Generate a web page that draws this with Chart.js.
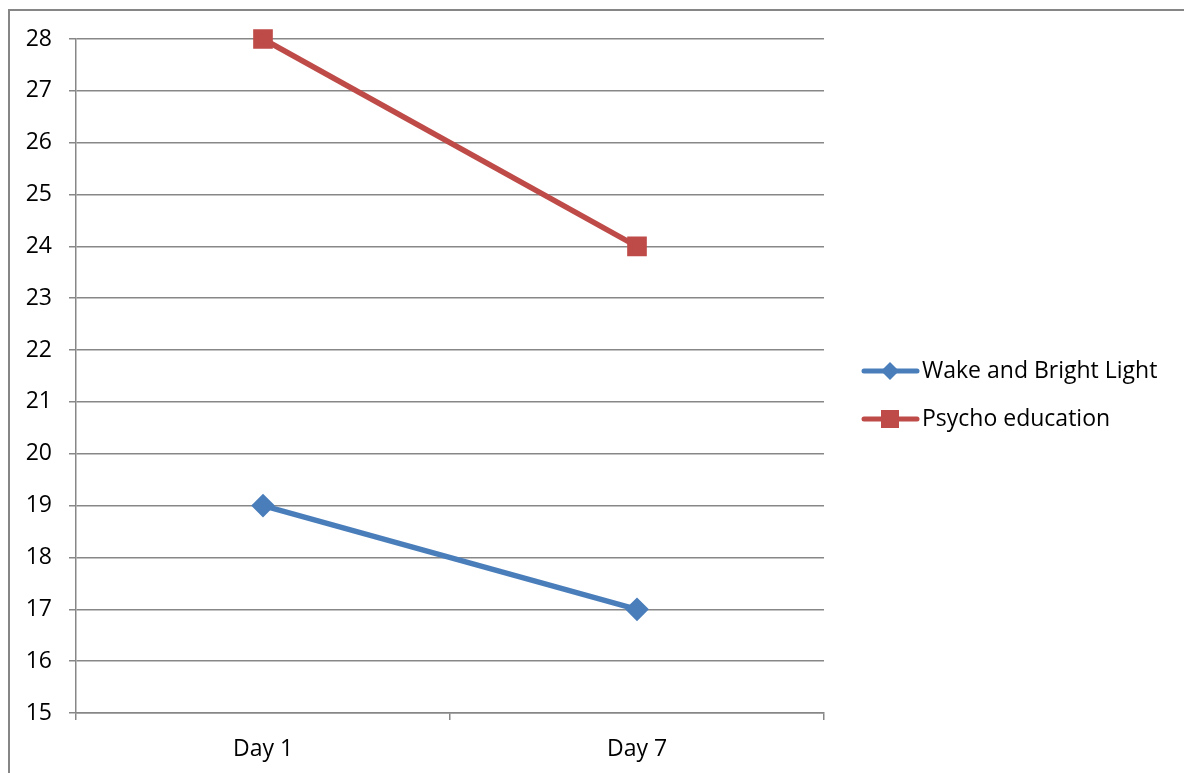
<!DOCTYPE html>
<html>
<head>
<meta charset="utf-8">
<script src="https://cdn.jsdelivr.net/npm/chart.js@4"></script>
<style>
  html, body { margin: 0; padding: 0; background: #fff; overflow: hidden; }
  #frame { position: absolute; left: 8px; top: 9px; width: 2000px; height: 2000px; border: 2px solid #868686; }
  #wrap { position: absolute; left: 0; top: 0; width: 1184px; height: 773px; }
</style>
</head>
<body>
<div id="frame"></div>
<div id="wrap"><canvas id="c"></canvas></div>
<script>
// Excel-style line chart: two groups, Day 1 vs Day 7
const categories = ['Day 1', 'Day 7'];
const wakeBright = [19, 17];
const psychoEdu = [28, 24];
const seriesNames = ['Wake and Bright Light', 'Psycho education'];

const GRID = '#878787';
const FONT = '"Open Sans", Lato, sans-serif';
const FSIZE = 23;

// right-side legend with line + marker, like Excel draws it
const sideLegend = {
  id: 'sideLegend',
  afterDraw(chart) {
    const ctx = chart.ctx;
    const rows = [371, 419];
    chart.data.datasets.forEach((ds, i) => {
      const y = rows[i];
      ctx.save();
      ctx.strokeStyle = ds.borderColor;
      ctx.lineWidth = 5;
      ctx.lineCap = 'round';
      ctx.beginPath();
      ctx.moveTo(864, y);
      ctx.lineTo(917, y);
      ctx.stroke();
      ctx.fillStyle = ds.pointBackgroundColor;
      ctx.beginPath();
      if (ds.pointStyle === 'rect') {
        ctx.rect(890 - 9, y - 9, 18, 18);
      } else {
        ctx.moveTo(890, y - 9); ctx.lineTo(899, y); ctx.lineTo(890, y + 9); ctx.lineTo(881, y);
        ctx.closePath();
      }
      ctx.fill();
      ctx.fillStyle = '#000';
      ctx.font = FSIZE + 'px ' + FONT;
      ctx.textBaseline = 'middle';
      ctx.fillText(ds.label, 922, y);
      ctx.restore();
    });
  }
};

new Chart(document.getElementById('c'), {
  type: 'line',
  data: {
    labels: categories,
    datasets: [
      {
        label: seriesNames[0],
        data: wakeBright,
        borderColor: '#4A7EBB',
        backgroundColor: '#4A7EBB',
        pointBackgroundColor: '#4A7EBB',
        pointBorderColor: '#4A7EBB',
        pointStyle: 'rectRot',
        pointRadius: 8,
        borderWidth: 5.5,
        tension: 0,
        clip: false
      },
      {
        label: seriesNames[1],
        data: psychoEdu,
        borderColor: '#BE4B48',
        backgroundColor: '#BE4B48',
        pointBackgroundColor: '#BE4B48',
        pointBorderColor: '#BE4B48',
        pointStyle: 'rect',
        pointRadius: 10,
        borderWidth: 5.5,
        tension: 0,
        clip: false
      }
    ]
  },
  options: {
    responsive: true,
    maintainAspectRatio: false,
    animation: false,
    layout: { padding: { left: 0, top: 39, right: 360, bottom: 0 } },
    plugins: { legend: { display: false }, tooltip: { enabled: false } },
    scales: {
      x: {
        offset: true,
        afterFit: (s) => { s.height = 60; },
        grid: { offset: true, drawOnChartArea: false, color: GRID, lineWidth: 1.5, tickLength: 7 },
        border: { color: GRID, width: 1.5 },
        ticks: { color: '#000', font: { family: FONT, size: FSIZE }, padding: 16 }
      },
      y: {
        min: 15,
        max: 28,
        afterFit: (s) => { s.width = 76; },
        grid: { color: GRID, lineWidth: 1.5, tickLength: 7 },
        border: { color: GRID, width: 1.5 },
        ticks: { stepSize: 1, color: '#000', font: { family: FONT, size: FSIZE }, padding: 17 }
      }
    }
  },
  plugins: [sideLegend]
});
</script>
</body>
</html>
